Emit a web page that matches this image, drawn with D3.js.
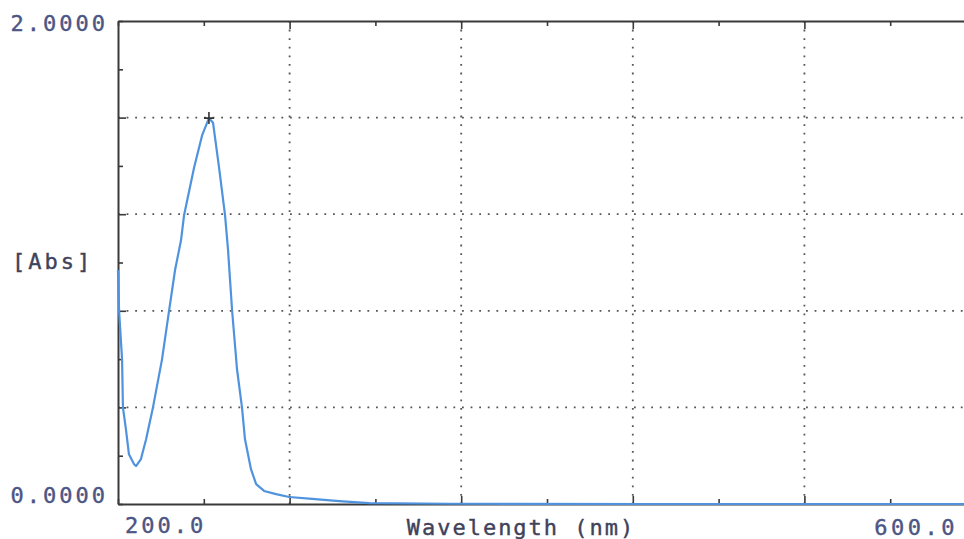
<!DOCTYPE html>
<html>
<head>
<meta charset="utf-8">
<script src="https://cdn.jsdelivr.net/npm/d3@7"></script>
<style>
    body { margin: 0; background: #fff; overflow: hidden; }
    text { font-family: "DejaVu Sans Mono", "Liberation Mono", monospace; stroke-width: 0.4px; }
</style>
</head>
<body>
<div id="spectrum"></div>
<script>
'use strict';

// spectrum
const wavelength = [200.0, 200.5, 201.9, 202.3, 203.7, 205.1, 207.5, 208.4, 210.7, 213.1,
    216.3, 220.5, 223.8, 226.6, 229.4, 230.8, 235.5, 239.2, 242.4, 244.3,
    247.1, 249.9, 251.3, 253.2, 255.5, 257.8, 259.2, 262.0, 264.4, 268.1,
    273.7, 279.8, 290.5, 303.1, 317.1, 354.4, 450.0, 600.0];
const absorbance = [0.969, 0.800, 0.598, 0.400, 0.309, 0.206, 0.165, 0.157, 0.186, 0.268,
    0.400, 0.598, 0.800, 0.969, 1.093, 1.196, 1.394, 1.526, 1.598, 1.579,
    1.394, 1.196, 1.052, 0.800, 0.557, 0.400, 0.268, 0.144, 0.082, 0.054,
    0.041, 0.029, 0.021, 0.012, 0.004, 0.001, 0.0, 0.0];

const xRange = [200, 600];
const yRange = [0, 2];
const xGrid = [280, 360, 440, 520];
const yGrid = [0.4, 0.8, 1.2, 1.6];
const xTicks = [200, 240, 280, 320, 360, 400, 440, 480, 520, 560, 600];
const yTicks = [0, 0.2, 0.4, 0.6, 0.8, 1.0, 1.2, 1.4, 1.6, 1.8, 2.0];
const peak = { wl: 242.4, abs: 1.598 };

let margin = { top: 21, left: 118 },
    width = 858,
    height = 483;

let x = d3.scaleLinear().domain(xRange).range([0, width]);
let y = d3.scaleLinear().domain(yRange).range([height, 0]);

let svg = d3.select("#spectrum").append("svg")
    .attr("width", 964)
    .attr("height", 539)
    .append("g")
    .attr("transform", "translate(" + margin.left + "," + margin.top + ")");

// dotted grid
svg.selectAll(".hgrid")
    .data(yGrid)
    .enter().append("line")
    .attr("x1", 0).attr("x2", width)
    .attr("y1", d => y(d)).attr("y2", d => y(d))
    .attr("stroke", "#555")
    .attr("stroke-width", 1.8)
    .attr("stroke-dasharray", "1.8,6.8");

svg.selectAll(".vgrid")
    .data(xGrid)
    .enter().append("line")
    .attr("y1", 0).attr("y2", height)
    .attr("x1", d => x(d)).attr("x2", d => x(d))
    .attr("stroke", "#555")
    .attr("stroke-width", 1.8)
    .attr("stroke-dasharray", "1.8,6.8");

// inward ticks, longer on the gridlines
function tickLen(isMajor) { return isMajor ? 8 : 5; }

function styleAxis(g) {
    g.select(".domain").attr("stroke", "#3a3a3a").attr("stroke-width", 2);
    g.selectAll(".tick line").attr("stroke", "#3a3a3a").attr("stroke-width", 1.6);
    g.selectAll(".tick text").remove();
}

svg.append("g")
    .call(d3.axisLeft(y).tickValues(yTicks).tickSizeOuter(0).tickSize(0))
    .call(styleAxis)
    .selectAll(".tick line")
    .attr("x2", d => tickLen(yGrid.includes(d)));

svg.append("g")
    .attr("transform", "translate(0," + height + ")")
    .call(d3.axisBottom(x).tickValues(xTicks).tickSizeOuter(0).tickSize(0))
    .call(styleAxis)
    .selectAll(".tick line")
    .attr("y2", d => -tickLen(xGrid.includes(d)));

svg.append("g")
    .call(d3.axisTop(x).tickValues(xTicks).tickSizeOuter(0).tickSize(0))
    .call(styleAxis)
    .selectAll(".tick line")
    .attr("y2", d => tickLen(xGrid.includes(d)));

// spectrum
let line = d3.line()
    .x(d => x(d[0]))
    .y(d => y(d[1]));

svg.append("path")
    .datum(d3.zip(wavelength, absorbance))
    .attr("fill", "none")
    .attr("stroke", "#4f93de")
    .attr("stroke-width", 2.2)
    .attr("stroke-linejoin", "round")
    .attr("d", line);

// peak marker
svg.append("path")
    .attr("d", "M" + (x(peak.wl) - 5) + "," + y(peak.abs) + "h10M" + x(peak.wl) + "," + (y(peak.abs) - 6) + "v12")
    .attr("stroke", "#333")
    .attr("stroke-width", 1.6);

// labels
let numColor = "#4c5584", lblColor = "#40425a";

function label(txt, px, py, anchor, color, spacing) {
    svg.append("text")
        .attr("x", px).attr("y", py)
        .attr("text-anchor", anchor)
        .attr("fill", color)
        .attr("stroke", color)
        .style("font-size", "22px").style("letter-spacing", spacing + "px")
        .text(txt);
}

label("2.0000", -10, y(2) + 10, "end", numColor, 3);
label("0.0000", -10, y(0) - 1, "end", numColor, 3);
label("[Abs]", -106, y(1) + 6, "start", lblColor, 3);
label("200.0", x(200) + 7, height + 29, "start", numColor, 3);
label("600.0", x(600) - 18, height + 31, "end", numColor, 3.5);
label("Wavelength (nm)", (x(200) + x(600)) / 2 - 26, height + 31, "middle", lblColor, 2);
</script>
</body>
</html>
